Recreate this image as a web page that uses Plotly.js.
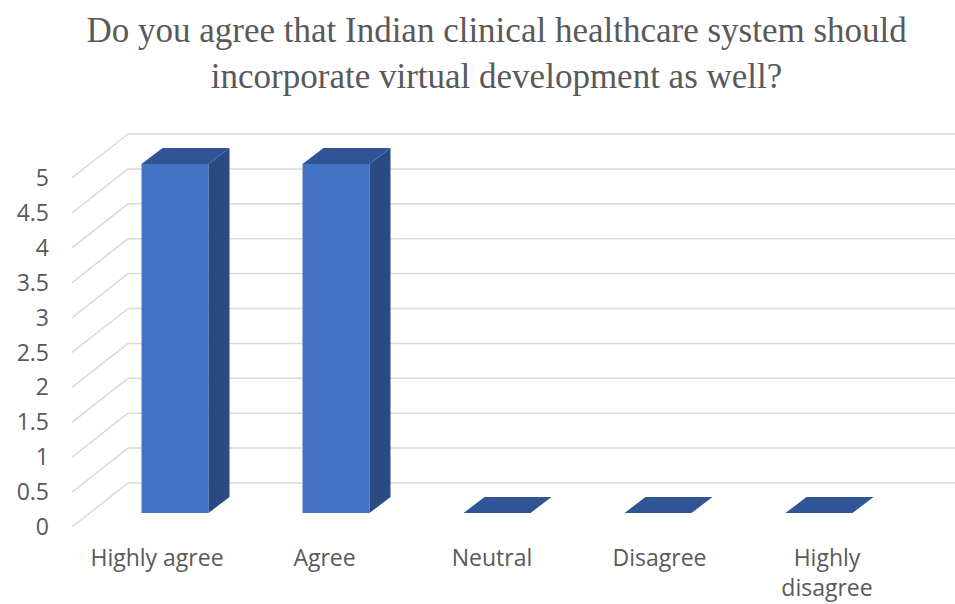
<!DOCTYPE html>
<html>
<head>
<meta charset="utf-8">
<script src="https://cdn.plot.ly/plotly-3.0.1.min.js"></script>
<style>
  html, body { margin: 0; padding: 0; background: #ffffff; }
  #chart { width: 955px; height: 604px; }
</style>
</head>
<body>
<div id="chart"></div>
<script>
// Survey answers
const categories = ['Highly agree', 'Agree', 'Neutral', 'Disagree', 'Highly<br>disagree'];
const responses = [5, 5, 0, 0, 0];
const yTicks = [0, 0.5, 1, 1.5, 2, 2.5, 3, 3.5, 4, 4.5, 5];
const yTickText = ['0', '0.5', '1', '1.5', '2', '2.5', '3', '3.5', '4', '4.5', '5'];

// Geometry of the pseudo-3D box (pixels)
const W = 955, H = 604;
const M = { l: 72, r: 0, t: 120, b: 64 };
const plotW = W - M.l - M.r;
const plotH = H - M.t - M.b;
const catPx = 161;          // spacing between bars
const valPx = 69.8;         // pixels per unit of value
const frontZeroPx = 527;    // y of value 0 on the front edge
const wallDx = 56, wallDy = 44;   // depth of the back wall
const barPlaneDx = 18, barPlaneDy = 14; // bars sit this far behind the front edge
const barDx = 21, barDy = 16;     // depth of each bar
const barWidthPx = 67;
const firstBarPx = 175;     // centre of first bar front face
const firstLabelPx = 157, labelPx = 167.5;

// front-plane axes
const xFront0 = -(firstBarPx - barPlaneDx - M.l) / catPx;
const xFrontRange = [xFront0, xFront0 + plotW / catPx];
const yFrontRange = [-(M.t + plotH - frontZeroPx) / valPx, (frontZeroPx - M.t) / valPx];

// bar-plane axes
const xBar0 = -(firstBarPx - M.l) / catPx;
const xBarRange = [xBar0, xBar0 + plotW / catPx];
const barZeroPx = frontZeroPx - barPlaneDy;
const yBarRange = [-(M.t + plotH - barZeroPx) / valPx, (barZeroPx - M.t) / valPx];

// category label axis
const xLab0 = -(firstLabelPx - M.l) / labelPx;
const xLabRange = [xLab0, xLab0 + plotW / labelPx];

const wdx = wallDx / catPx, wdy = wallDy / valPx;
const bdx = barDx / catPx, bdy = barDy / valPx;
const bw = barWidthPx / catPx;

const FRONT = '#4472C4', TOP = '#2F5597', SIDE = '#2A4A82';
const GRID = '#D9D9D9';

const idx = categories.map((c, i) => i);

const traces = [];

// side and top faces of each bar
idx.forEach(i => {
  const v = responses[i];
  const xl = i - bw / 2, xr = i + bw / 2;
  traces.push({
    type: 'scatter', xaxis: 'x3', yaxis: 'y3', mode: 'lines',
    x: [xr, xr + bdx, xr + bdx, xr, xr],
    y: [0, bdy, v + bdy, v, 0],
    fill: 'toself', fillcolor: SIDE, line: { width: 0 },
    hoverinfo: 'skip', showlegend: false
  });
  traces.push({
    type: 'scatter', xaxis: 'x3', yaxis: 'y3', mode: 'lines',
    x: [xl, xr, xr + bdx, xl + bdx, xl],
    y: [v, v, v + bdy, v + bdy, v],
    fill: 'toself', fillcolor: TOP, line: { width: 0 },
    hoverinfo: 'skip', showlegend: false
  });
});

// front faces
traces.push({
  type: 'bar', xaxis: 'x3', yaxis: 'y3',
  x: idx, y: responses, width: bw,
  marker: { color: FRONT, line: { width: 0 } },
  text: categories, hoverinfo: 'text+y', textposition: 'none',
  showlegend: false
});

// carrier for the category labels
traces.push({
  type: 'scatter', xaxis: 'x2', yaxis: 'y', mode: 'none',
  x: idx, y: idx.map(() => null), hoverinfo: 'skip', showlegend: false
});

// back wall gridlines and the slanted lines joining them to the value labels
const shapes = [];
yTicks.forEach(v => {
  shapes.push({
    type: 'line', xref: 'x', yref: 'y', layer: 'below',
    x0: xFrontRange[0], y0: v, x1: xFrontRange[0] + wdx, y1: v + wdy,
    line: { color: GRID, width: 1.5 }
  });
  shapes.push({
    type: 'line', xref: 'x', yref: 'y', layer: 'below',
    x0: xFrontRange[0] + wdx, y0: v + wdy, x1: xFrontRange[1], y1: v + wdy,
    line: { color: GRID, width: 1.5 }
  });
});

const labelFont = { family: 'Open Sans, sans-serif', size: 23, color: '#595959' };

const layout = {
  width: W, height: H,
  margin: M,
  paper_bgcolor: '#ffffff', plot_bgcolor: 'rgba(0,0,0,0)',
  title: {
    text: 'Do you agree that Indian clinical healthcare system should<br>incorporate virtual development as well?',
    font: { family: 'Liberation Serif, Times New Roman, serif', size: 35, color: '#595959' },
    xref: 'container', x: 0.52, xanchor: 'center',
    yref: 'container', y: 0.93, yanchor: 'top'
  },
  xaxis: {
    range: xFrontRange, showgrid: false, zeroline: false, showline: false,
    showticklabels: false, ticks: '', fixedrange: true
  },
  xaxis2: {
    overlaying: 'x', side: 'bottom', anchor: 'y', range: xLabRange,
    tickmode: 'array', tickvals: idx, ticktext: categories,
    showgrid: false, zeroline: false, showline: false, ticks: '',
    tickfont: labelFont, ticklabelstandoff: 2, automargin: false, fixedrange: true
  },
  xaxis3: {
    overlaying: 'x', anchor: 'y3', range: xBarRange, visible: false, fixedrange: true
  },
  yaxis: {
    range: yFrontRange, tickmode: 'array', tickvals: yTicks, ticktext: yTickText,
    showgrid: false, zeroline: false, showline: false, ticks: '',
    tickfont: labelFont, ticklabelstandoff: 22, automargin: false, fixedrange: true
  },
  yaxis3: {
    overlaying: 'y', anchor: 'x3', range: yBarRange, visible: false, fixedrange: true
  },
  shapes: shapes,
  showlegend: false
};

Plotly.newPlot('chart', traces, layout, { displayModeBar: false, staticPlot: true });
</script>
</body>
</html>
